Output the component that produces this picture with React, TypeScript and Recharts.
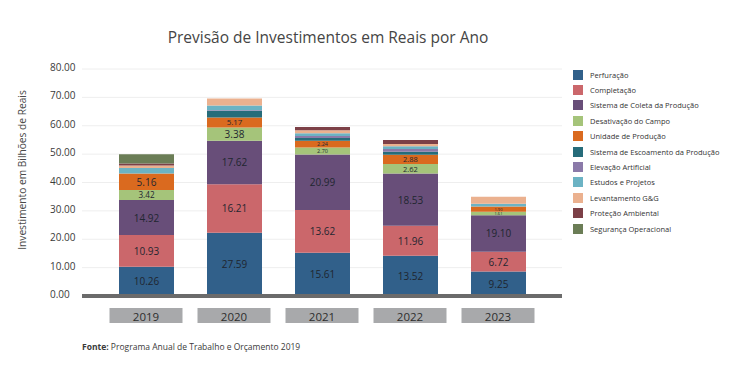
import React from "react";
import {
  BarChart,
  Bar,
  XAxis,
  YAxis,
  CartesianGrid,
  LabelList,
} from "recharts";

const years = ["2019", "2020", "2021", "2022", "2023"];

// segment heights as drawn in the picture (Bilhões de Reais)
const perfuracao = [10.3, 22.3, 15.2, 14.2, 8.6];
const completacao = [11.2, 17.1, 15.1, 10.6, 7.0];
const coleta = [12.3, 15.3, 19.6, 18.4, 12.9];
const desativacao = [3.6, 4.7, 2.4, 3.3, 1.2];
const unidade = [5.8, 3.5, 2.4, 3.3, 1.8];
const escoamento = [0, 2.3, 1.0, 1.0, 0];
const elevacao = [0, 0.3, 0.7, 1.0, 0];
const estudos = [1.9, 1.6, 1.0, 1.0, 1.0];
const levantamento = [0.9, 2.5, 1.0, 0.8, 2.5];
const protecao = [0.7, 0, 1.2, 1.4, 0];
const seguranca = [3.3, 0, 0, 0, 0];

// values printed on the segments
const perfuracaoLabels = ["10.26", "27.59", "15.61", "13.52", "9.25"];
const completacaoLabels = ["10.93", "16.21", "13.62", "11.96", "6.72"];
const coletaLabels = ["14.92", "17.62", "20.99", "18.53", "19.10"];
const desativacaoLabels = ["3.42", "3.38", "2.70", "2.62", "1.61"];
const unidadeLabels = ["5.16", "5.17", "2.24", "2.88", "1.90"];

const yTicks = [0, 10, 20, 30, 40, 50, 60, 70, 80];

const SERIES = [
  { key: "perf", name: "Perfuração", color: "#31608a", values: perfuracao, labels: perfuracaoLabels },
  { key: "comp", name: "Completação", color: "#cb676b", values: completacao, labels: completacaoLabels },
  { key: "coleta", name: "Sistema de Coleta da Produção", color: "#684e79", values: coleta, labels: coletaLabels },
  { key: "desat", name: "Desativação do Campo", color: "#a5c47a", values: desativacao, labels: desativacaoLabels },
  { key: "unid", name: "Unidade de Produção", color: "#da6a1f", values: unidade, labels: unidadeLabels },
  { key: "escoa", name: "Sistema de Escoamento da Produção", color: "#266c7a", values: escoamento },
  { key: "elev", name: "Elevação Artificial", color: "#8b7aa9", values: elevacao },
  { key: "estudos", name: "Estudos e Projetos", color: "#6cb3c4", values: estudos },
  { key: "levant", name: "Levantamento G&G", color: "#ebb18f", values: levantamento },
  { key: "protec", name: "Proteção Ambiental", color: "#7c4047", values: protecao },
  { key: "segur", name: "Segurança Operacional", color: "#6b7d56", values: seguranca },
];

const chartData = years.map((year, i) => {
  const row: Record<string, string | number> = { year };
  SERIES.forEach((s) => {
    row[s.key] = s.values[i];
  });
  return row;
});

const FONT = "'Open Sans', sans-serif";

function makeLabel(labels: string[]) {
  return (props: any) => {
    const { x, y, width, height, index } = props;
    const h = Number(height);
    const size = Math.max(4, Math.min(10, h * 0.8));
    return (
      <text
        x={Number(x) + Number(width) / 2}
        y={Number(y) + h / 2}
        textAnchor="middle"
        dominantBaseline="central"
        fontSize={size}
        fontFamily={FONT}
        fill="#1f2630"
      >
        {labels[index]}
      </text>
    );
  };
}

function YearTick(props: any) {
  const { x, payload } = props;
  return (
    <g>
      <rect x={x - 36.5} y={308} width={73} height={15} fill="#a8a9ab" />
      <text
        x={x}
        y={316}
        textAnchor="middle"
        dominantBaseline="central"
        fontSize={11.5}
        fontFamily={FONT}
        fill="#2e2e2e"
      >
        {payload.value}
      </text>
    </g>
  );
}

function ValueTick(props: any) {
  const { y, payload } = props;
  return (
    <text
      x={50}
      y={y - 2}
      dominantBaseline="central"
      fontSize={10}
      fontFamily={FONT}
      fill="#3a3a3a"
    >
      {Number(payload.value).toFixed(2)}
    </text>
  );
}

function LegendBox() {
  return (
    <div style={{ position: "absolute", left: 573, top: 67, fontFamily: FONT }}>
      {SERIES.map((s) => (
        <div
          key={s.key}
          style={{ display: "flex", alignItems: "center", height: 15.4 }}
        >
          <span
            style={{
              width: 10,
              height: 10,
              background: s.color,
              display: "inline-block",
              marginRight: 7,
            }}
          />
          <span style={{ fontSize: 7.5, color: "#333", whiteSpace: "nowrap" }}>{s.name}</span>
        </div>
      ))}
    </div>
  );
}

export default function App() {
  return (
    <div
      style={{
        position: "fixed",
        left: 0,
        top: 0,
        width: 732,
        height: 378,
        background: "#fff",
        fontFamily: FONT,
      }}
    >
      <div
        style={{
          position: "absolute",
          left: 128,
          top: 27,
          width: 400,
          textAlign: "center",
          fontSize: 15.5,
          lineHeight: "20px",
          color: "#454545",
        }}
      >
        Previsão de Investimentos em Reais por Ano
      </div>
      <div style={{ position: "absolute", left: 0, top: 0 }}>
        <BarChart
          width={732}
          height={378}
          data={chartData}
          margin={{ top: 69, right: 170, bottom: 52, left: 0 }}
          barSize={55}
        >
          <CartesianGrid vertical={false} stroke="#eeeeee" />
          <XAxis
            dataKey="year"
            height={30}
            padding={{ left: 20, right: 20 }}
            axisLine={{ stroke: "#6b6b6b", strokeWidth: 4 }}
            tickLine={false}
            tick={<YearTick />}
          />
          <YAxis
            width={82}
            domain={[0, 80]}
            ticks={yTicks}
            axisLine={false}
            tickLine={false}
            tick={<ValueTick />}
            label={{
              content: () => (
                <text
                  x={22}
                  y={170}
                  transform="rotate(-90 22 170)"
                  textAnchor="middle"
                  dominantBaseline="central"
                  fontSize={10.2}
                  fontFamily={FONT}
                  fill="#4a4a4a"
                >
                  Investimento em Bilhões de Reais
                </text>
              ),
            }}
          />
          {SERIES.map((s) => (
            <Bar
              key={s.key}
              dataKey={s.key}
              name={s.name}
              stackId="a"
              fill={s.color}
              isAnimationActive={false}
            >
              {s.labels && <LabelList dataKey={s.key} content={makeLabel(s.labels)} />}
            </Bar>
          ))}
        </BarChart>
      </div>
      <LegendBox />
      <div
        style={{
          position: "absolute",
          left: 82,
          top: 341,
          fontSize: 8.5,
          lineHeight: "12px",
          color: "#3a3a3a",
        }}
      >
        <b>Fonte:</b> Programa Anual de Trabalho e Orçamento 2019
      </div>
    </div>
  );
}
